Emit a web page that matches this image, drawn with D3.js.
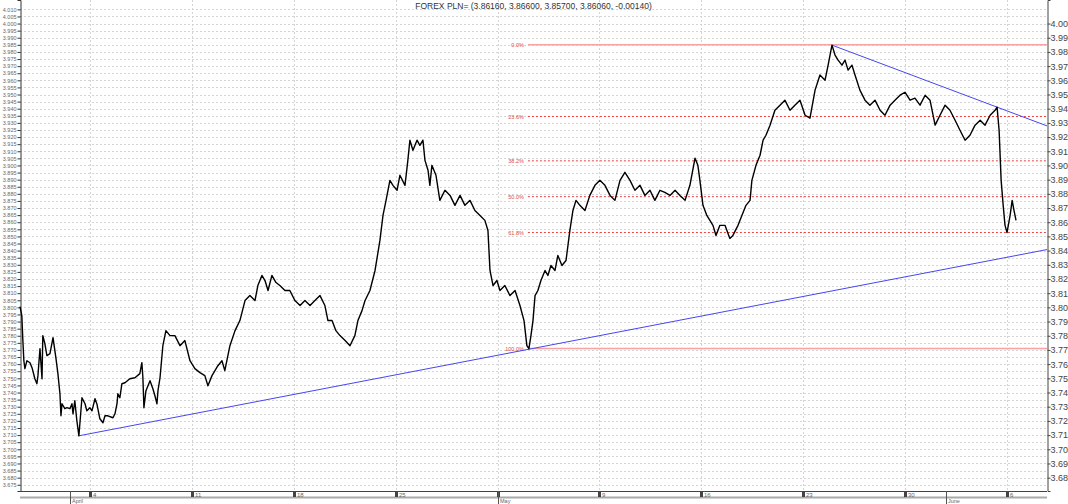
<!DOCTYPE html>
<html>
<head>
<meta charset="utf-8">
<script src="https://cdn.jsdelivr.net/npm/d3@7"></script>
<style>
  body { margin: 0; background: #fff; }
  svg { display: block; font-family: "Liberation Sans", Arial, sans-serif; }
</style>
</head>
<body>
<svg class="mainSvg"></svg>
<script>
// ===========================================================================
//     data area  (time = trading days from Fri 1 April 2016, weekends skipped)
// ===========================================================================
const title = 'FOREX PLN= (3.86160, 3.86600, 3.85700, 3.86060, -0.00140)';

const times = [
  -2.43, -2.34, -2.29, -2.24, -2.19, -2.09, -1.94, -1.84, -1.70, -1.60, -1.55, -1.45, -1.35, -1.31, -1.21, -1.11,
  -0.96, -0.81, -0.67, -0.57, -0.47, -0.42, -0.37, -0.23, -0.13, 0.02, 0.12, 0.17, 0.26, 0.36, 0.46, 0.61,
  0.76, 0.85, 1.00, 1.10, 1.25, 1.34, 1.49, 1.64, 1.74, 1.88, 2.13, 2.23, 2.33, 2.37, 2.47, 2.57,
  2.72, 2.96, 3.21, 3.45, 3.55, 3.60, 3.65, 3.75, 3.95, 4.09, 4.19, 4.29, 4.34, 4.44, 4.58, 4.73,
  4.93, 5.17, 5.42, 5.66, 5.91, 6.15, 6.40, 6.64, 6.79, 6.99, 7.28, 7.48, 7.62, 7.87, 8.12, 8.36,
  8.61, 8.85, 9.10, 9.24, 9.44, 9.59, 9.74, 9.93, 10.13, 10.32, 10.57, 10.81, 11.06, 11.31, 11.55, 11.80,
  12.04, 12.29, 12.53, 12.68, 12.88, 13.07, 13.27, 13.52, 13.76, 14.00, 14.15, 14.35, 14.50, 14.74, 14.99, 15.23,
  15.38, 15.53, 15.72, 15.87, 16.07, 16.21, 16.46, 16.60, 16.70, 16.85, 17.05, 17.19, 17.34, 17.44, 17.59, 17.68,
  17.78, 17.98, 18.17, 18.42, 18.67, 18.91, 19.16, 19.40, 19.65, 19.89, 20.14, 20.38, 20.53, 20.63, 20.78, 20.97,
  21.12, 21.36, 21.61, 21.86, 22.10, 22.30, 22.44, 22.54, 22.64, 22.74, 22.84, 22.98, 23.13, 23.33, 23.47, 23.62,
  23.82, 23.96, 24.16, 24.36, 24.55, 24.70, 24.85, 25.04, 25.29, 25.53, 25.78, 26.02, 26.27, 26.52, 26.76, 27.01,
  27.25, 27.50, 27.74, 27.99, 28.23, 28.48, 28.72, 28.97, 29.21, 29.46, 29.71, 29.95, 30.20, 30.44, 30.69, 30.83,
  30.93, 31.08, 31.27, 31.42, 31.57, 31.72, 31.91, 32.16, 32.40, 32.55, 32.80, 32.99, 33.19, 33.39, 33.48, 33.68,
  33.88, 34.03, 34.17, 34.37, 34.61, 34.86, 35.10, 35.35, 35.59, 35.84, 36.09, 36.33, 36.58, 36.82, 37.07, 37.22,
  37.41, 37.56, 37.71, 37.90, 38.05, 38.20, 38.39, 38.54, 38.78, 39.03, 39.27, 39.52, 39.77, 40.01, 40.26, 40.50,
  40.75, 40.99, 41.24, 41.48, 41.73, 41.98, 42.22, 42.47, 42.71, 42.96, 43.20, 43.45, 43.69, 43.94, 44.18, 44.43,
  44.68, 44.92, 45.17, 45.41, 45.51, 45.61, 45.71, 45.81, 45.90, 46.00, 46.15, 46.25, 46.34, 46.44,
];

const closes = [
  3.8006, 3.7942, 3.7766, 3.7624, 3.7568, 3.7624, 3.7610, 3.7575, 3.7497, 3.7462, 3.7519, 3.7709, 3.7497, 3.7801, 3.7744, 3.7660,
  3.7674, 3.7787, 3.7646, 3.7533, 3.7391, 3.7236, 3.7321, 3.7286, 3.7293, 3.7286, 3.7321, 3.7250, 3.7342, 3.7201, 3.7095, 3.7363,
  3.7321, 3.7271, 3.7293, 3.7271, 3.7356, 3.7321, 3.7215, 3.7187, 3.7236, 3.7236, 3.7222, 3.7250, 3.7321, 3.7391, 3.7363, 3.7462,
  3.7469, 3.7497, 3.7504, 3.7533, 3.7610, 3.7504, 3.7293, 3.7413, 3.7483, 3.7427, 3.7377, 3.7321, 3.7413, 3.7504, 3.7730, 3.7836,
  3.7801, 3.7801, 3.7730, 3.7766, 3.7624, 3.7568, 3.7540, 3.7519, 3.7448, 3.7519, 3.7589, 3.7624, 3.7554, 3.7730, 3.7836, 3.7907,
  3.8048, 3.8083, 3.8048, 3.8154, 3.8225, 3.8189, 3.8119, 3.8225, 3.8175, 3.8154, 3.8119, 3.8119, 3.8048, 3.8013, 3.8048, 3.8013,
  3.8048, 3.8083, 3.8013, 3.7907, 3.7907, 3.7836, 3.7801, 3.7766, 3.7730, 3.7801, 3.7907, 3.7977, 3.8048, 3.8119, 3.8260, 3.8472,
  3.8648, 3.8754, 3.8895, 3.8860, 3.8825, 3.8931, 3.8860, 3.9036, 3.9178, 3.9107, 3.9178, 3.9142, 3.9178, 3.9036, 3.8966, 3.8860,
  3.9001, 3.8931, 3.8754, 3.8825, 3.8789, 3.8719, 3.8789, 3.8719, 3.8754, 3.8683, 3.8648, 3.8613, 3.8542, 3.8260, 3.8154, 3.8189,
  3.8119, 3.8154, 3.8083, 3.8119, 3.8013, 3.7907, 3.7730, 3.7709, 3.7801, 3.7907, 3.8083, 3.8119, 3.8189, 3.8260, 3.8225, 3.8295,
  3.8260, 3.8366, 3.8295, 3.8330, 3.8542, 3.8683, 3.8754, 3.8719, 3.8683, 3.8789, 3.8860, 3.8895, 3.8860, 3.8789, 3.8754, 3.8895,
  3.8952, 3.8895, 3.8825, 3.8860, 3.8789, 3.8825, 3.8754, 3.8825, 3.8810, 3.8789, 3.8825, 3.8789, 3.8754, 3.8860, 3.9051, 3.9001,
  3.8895, 3.8719, 3.8648, 3.8613, 3.8578, 3.8507, 3.8578, 3.8578, 3.8486, 3.8507, 3.8578, 3.8648, 3.8719, 3.8754, 3.8895, 3.9001,
  3.9072, 3.9178, 3.9213, 3.9284, 3.9389, 3.9425, 3.9460, 3.9389, 3.9425, 3.9460, 3.9354, 3.9333, 3.9531, 3.9637, 3.9601, 3.9707,
  3.9848, 3.9778, 3.9742, 3.9707, 3.9742, 3.9672, 3.9707, 3.9637, 3.9531, 3.9460, 3.9425, 3.9460, 3.9389, 3.9354, 3.9425, 3.9460,
  3.9495, 3.9516, 3.9460, 3.9474, 3.9425, 3.9495, 3.9460, 3.9284, 3.9354, 3.9425, 3.9389, 3.9319, 3.9248, 3.9178, 3.9213, 3.9284,
  3.9319, 3.9284, 3.9354, 3.9389, 3.9411, 3.9248, 3.8895, 3.8719, 3.8578, 3.8528, 3.8648, 3.8754, 3.8683, 3.8613,
];

const weekTicks = [1, 6, 11, 16, 21, 26, 31, 36, 41, 46];
const weekLabels = ['4', '11', '18', '25', '', '9', '16', '23', '30', '6'];
const monthTicks = [0, 21, 43];
const monthLabels = ['April', 'May', 'June'];

const fibLevels = [0, 23.6, 38.2, 50, 61.8, 100];
const fibHigh = 3.985;
const fibLow = 3.771;
const fibStart = 22.54;

// two anchor points [time, price] for each trend line
const supportLine = [[0.46, 3.7095], [22.54, 3.7705]];
const resistLine = [[37.41, 3.9848], [45.51, 3.9411]];

const timeDomain = [-2.43, 47.96];
const priceDomain = [3.6706, 4.0166];

// ===========================================================================
//      procedure
// ===========================================================================
const initWidth = 1068;
const initHeight = 504;
const plotLeft = 20;
const plotRight = 1047;
const plotBottom = 491;

const svg = d3.select('.mainSvg')
  .attr('width', initWidth)
  .attr('height', initHeight);

const x = d3.scaleLinear().domain(timeDomain).range([plotLeft, plotRight]);
const y = d3.scaleLinear().domain(priceDomain).range([plotBottom, 0]);

const leftTicks = d3.range(3.675, 4.0101, 0.005);
const rightTicks = d3.range(3.68, 4.0001, 0.01);

// grid
svg.append('g')
  .selectAll('line')
  .data(leftTicks)
  .enter()
  .append('line')
  .attr('x1', plotLeft)
  .attr('x2', plotRight)
  .attr('y1', d => Math.round(y(d)) + 0.5)
  .attr('y2', d => Math.round(y(d)) + 0.5)
  .attr('stroke', '#d4d4d4')
  .attr('stroke-dasharray', '2,2');

svg.append('g')
  .selectAll('line')
  .data(weekTicks)
  .enter()
  .append('line')
  .attr('x1', d => Math.round(x(d)) + 0.5)
  .attr('x2', d => Math.round(x(d)) + 0.5)
  .attr('y1', 0)
  .attr('y2', plotBottom)
  .attr('stroke', '#d4d4d4')
  .attr('stroke-dasharray', '2,2');

// ===========================================================================
//      axes
// ===========================================================================
const leftAxis = svg.append('g')
  .attr('transform', `translate(${plotLeft + 0.5},0)`)
  .call(d3.axisLeft(y).tickValues(leftTicks).tickSize(3).tickFormat(d3.format('.3f')));
leftAxis.select('.domain').attr('stroke', '#333');
leftAxis.selectAll('.tick line').attr('stroke', '#333');
leftAxis.selectAll('.tick text')
  .attr('font-size', 5.5)
  .attr('font-family', '"Liberation Sans", Arial, sans-serif')
  .attr('fill', '#666')
  .attr('x', -4);

const rightAxis = svg.append('g')
  .attr('transform', `translate(${plotRight + 0.5},0)`)
  .call(d3.axisRight(y).tickValues(rightTicks).tickSize(3).tickFormat(d3.format('.2f')));
rightAxis.select('.domain').attr('stroke', '#444');
rightAxis.selectAll('.tick line').attr('stroke', '#444');
rightAxis.selectAll('.tick text')
  .attr('font-size', 9)
  .attr('font-family', '"Liberation Sans", Arial, sans-serif')
  .attr('fill', '#444')
  .attr('x', 3);

// bottom time strip
svg.append('line')
  .attr('x1', plotLeft).attr('x2', plotRight)
  .attr('y1', plotBottom + 0.5).attr('y2', plotBottom + 0.5)
  .attr('stroke', '#444');
svg.append('line')
  .attr('x1', plotLeft).attr('x2', plotRight)
  .attr('y1', plotBottom + 6.5).attr('y2', plotBottom + 6.5)
  .attr('stroke', '#aaa')
  .attr('stroke-width', 2);

svg.append('g')
  .selectAll('rect')
  .data(weekTicks)
  .enter()
  .append('rect')
  .attr('x', d => Math.round(x(d)) - 1)
  .attr('y', plotBottom)
  .attr('width', 3)
  .attr('height', 6)
  .attr('fill', '#444');

svg.append('g')
  .selectAll('text')
  .data(weekTicks)
  .enter()
  .append('text')
  .attr('x', d => Math.round(x(d)) + 3)
  .attr('y', plotBottom + 5.5)
  .attr('font-size', 6)
  .attr('fill', '#666')
  .text((d, i) => weekLabels[i]);

const months = svg.append('g')
  .selectAll('g')
  .data(monthTicks)
  .enter()
  .append('g');
months.append('line')
  .attr('x1', d => Math.round(x(d)) + 0.5)
  .attr('x2', d => Math.round(x(d)) + 0.5)
  .attr('y1', plotBottom)
  .attr('y2', initHeight)
  .attr('stroke', '#555');
months.append('text')
  .attr('x', d => Math.round(x(d)) + 2)
  .attr('y', initHeight - 1)
  .attr('font-size', 5.5)
  .attr('fill', '#666')
  .text((d, i) => monthLabels[i]);

// ===========================================================================
//      fibonacci retracement
// ===========================================================================
const fib = svg.append('g')
  .selectAll('g')
  .data(fibLevels)
  .enter()
  .append('g');
fib.append('line')
  .attr('x1', x(fibStart) - 1)
  .attr('x2', plotRight)
  .attr('y1', d => y(fibHigh - (fibHigh - fibLow) * d / 100))
  .attr('y2', d => y(fibHigh - (fibHigh - fibLow) * d / 100))
  .attr('stroke', d => (d === 0 || d === 100) ? '#f7a3a3' : '#f04040')
  .attr('stroke-width', d => (d === 0 || d === 100) ? 1.5 : 1)
  .attr('stroke-dasharray', d => (d === 0 || d === 100) ? null : '2,2');
fib.append('text')
  .attr('x', x(fibStart) - 5)
  .attr('y', d => y(fibHigh - (fibHigh - fibLow) * d / 100) + 2)
  .attr('text-anchor', 'end')
  .attr('font-size', 5.5)
  .attr('fill', '#e04848')
  .text(d => `${d.toFixed(1)}%`);

// ===========================================================================
//      trend lines
// ===========================================================================
function extend(p) {
  const slope = (p[1][1] - p[0][1]) / (p[1][0] - p[0][0]);
  const tEnd = timeDomain[1];
  return [p[0], [tEnd, p[0][1] + slope * (tEnd - p[0][0])]];
}

[supportLine, resistLine].forEach(function (p) {
  const seg = extend(p);
  svg.append('line')
    .attr('x1', x(seg[0][0]))
    .attr('y1', y(seg[0][1]))
    .attr('x2', x(seg[1][0]))
    .attr('y2', y(seg[1][1]))
    .attr('stroke', '#4646f0')
    .attr('stroke-width', 1);
});

// ===========================================================================
//      price line
// ===========================================================================
const line = d3.line()
  .x((d, i) => x(times[i]))
  .y(d => y(d));

svg.append('path')
  .attr('d', line(closes))
  .attr('fill', 'none')
  .attr('stroke', '#000')
  .attr('stroke-width', 1.4)
  .attr('stroke-linejoin', 'round');

svg.append('text')
  .attr('x', (plotLeft + plotRight) / 2)
  .attr('y', 9)
  .attr('text-anchor', 'middle')
  .attr('font-size', 8.5)
  .attr('fill', '#333')
  .text(title);
</script>
</body>
</html>
